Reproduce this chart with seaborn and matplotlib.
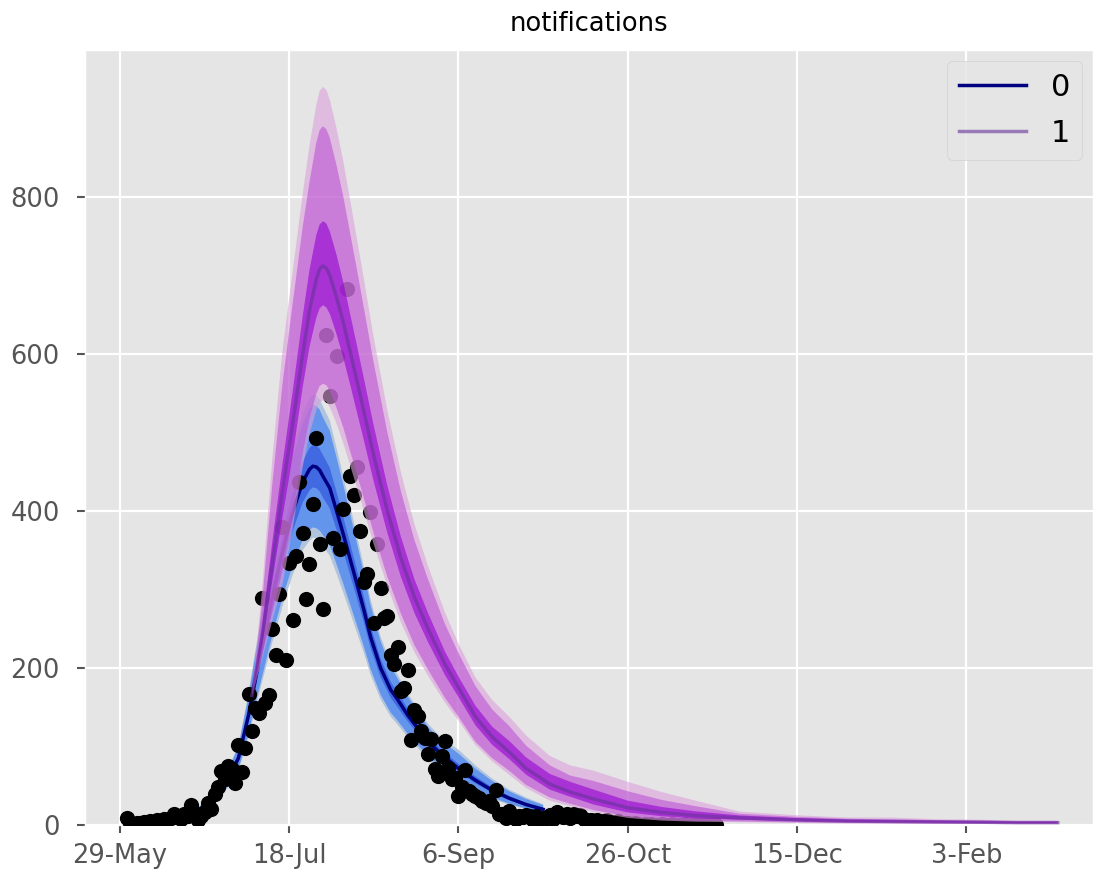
import matplotlib
matplotlib.use("Agg")
import matplotlib.pyplot as plt
import numpy as np
import pandas as pd
import seaborn as sns

# ---------------- data (days since 31-Dec-2019) ----------------
obs_days = list(range(152, 327))
obs_values = [
    9, 2, 1, 3, 2, 4, 3, 5, 4, 7,            # d 2-11
    5, 8, 6, 9, 14, 10, 8, 14, 12, 25,       # d 12-21
    15, 7, 12, 16, 28, 20, 39, 48, 69, 58,   # d 22-31
    75, 71, 54, 102, 67, 98, 167, 120, 149, 143,  # d 32-41
    289, 155, 166, 249, 217, 294, 380, 210, 334, 261,  # d 42-51
    343, 437, 372, 288, 332, 409, 493, 358, 275, 624,  # d 52-61
    546, 365, 597, 351, 402, 682, 445, 420, 456, 374,  # d 62-71
    309, 320, 398, 257, 358, 302, 264, 266, 217, 205,  # d 72-81
    227, 171, 174, 197, 108, 146, 139, 120, 111, 90,   # d 82-91
    109, 71, 62, 88, 107, 72, 58, 60, 37, 48,          # d 92-101
    70, 43, 40, 37, 34, 31, 28, 30, 24, 45,            # d 102-111
    14, 14, 9, 18, 12, 8, 11, 10, 13, 11,              # d 112-121
    7, 12, 9, 6, 10, 13, 8, 16, 12, 10,                # d 122-131
    14, 9, 14, 11, 13, 8, 6, 7, 5, 7,                  # d 132-141
    4, 5, 6, 4, 3, 5, 3, 2, 3, 1,                      # d 142-151
    2, 1, 0, 1, 0, 1, 0, 0, 1, 0,                      # d 152-161
    0, 1, 0, 0, 0, 1, 0, 0, 0, 0,                      # d 162-171
    0, 0, 0, 0, 0,                                     # d 172-176
]

# scenario 0 (baseline)
s0_days = [152, 156, 160, 164, 168, 172, 176, 179, 182, 185, 188, 190, 192,
           195, 198, 201, 204, 206, 207, 208, 209, 210, 212, 214, 216, 219,
           222, 224, 227, 230, 232, 235, 238, 241, 245, 250, 255, 260, 265,
           270, 275]
s0_median = [2, 3, 5, 7, 11, 16, 27, 40, 60, 85, 140, 185, 228, 290, 348, 398,
             437, 453, 457, 456, 452, 444, 429, 400, 370, 323, 275, 240, 200,
             172, 160, 140, 123, 106, 90, 72, 57, 44, 34, 26, 20]
s0_q01 = [1.6, 2.4, 4, 5.6, 8.8, 12.8, 21.6, 32, 48, 68, 112, 148, 182, 232,
          278, 318, 350, 362, 366, 365, 362, 355, 343, 320, 296, 258, 220, 192,
          160, 138, 128, 112, 98, 84, 70, 55, 43, 33, 26, 20, 15]
s0_q025 = [1.7, 2.5, 4.2, 5.8, 9.1, 13.3, 22.4, 33, 50, 71, 116, 154, 189, 241,
           289, 330, 363, 376, 379, 378, 375, 369, 356, 332, 307, 268, 228,
           199, 166, 143, 133, 116, 102, 88, 73, 58, 46, 35, 27, 21, 16]
s0_q25 = [1.9, 2.8, 4.7, 6.6, 10.3, 15, 25.4, 37.6, 56, 80, 132, 174, 214,
          273, 327, 374, 411, 426, 430, 429, 425, 417, 403, 376, 348, 304, 259,
          226, 188, 162, 150, 132, 116, 99, 84, 67, 53, 41, 32, 24, 18.6]
s0_q75 = [2.1, 3.2, 5.3, 7.4, 11.7, 17, 28.6, 42.4, 64, 90, 148, 196, 242, 307,
          369, 422, 463, 480, 484, 483, 479, 471, 455, 424, 392, 342, 292, 254,
          212, 182, 170, 148, 130, 113, 96, 78, 62, 48, 37, 28, 21.6]
s0_q975 = [2.3, 3.5, 5.9, 8.2, 12.9, 18.7, 31.6, 46.8, 70, 99, 164, 216, 267,
           339, 407, 466, 511, 530, 535, 534, 529, 519, 502, 468, 433, 378,
           322, 281, 234, 201, 187, 164, 144, 125, 107, 91, 72, 56, 43, 33,
           25.4]
s0_q99 = [2.4, 3.6, 6, 8.4, 13.2, 19.2, 32.4, 48, 72, 102, 168, 222, 274, 348,
          418, 478, 524, 544, 548, 547, 542, 533, 515, 480, 444, 388, 330, 288,
          240, 206, 192, 168, 148, 129, 111, 96, 76, 59, 45, 35, 26.6]

# scenario 1
s1_days = [189, 192, 195, 198, 201, 204, 206, 208, 209, 210, 211, 212, 214,
           216, 218, 220, 222, 225, 229, 233, 237, 241, 246, 250, 255, 260,
           265, 270, 277, 283, 290, 300, 310, 320, 333, 350, 365, 378, 390,
           405, 415, 427]
s1_median = [165, 240, 333, 425, 510, 600, 655, 695, 708, 712, 709, 700, 672,
             640, 603, 566, 528, 470, 400, 340, 290, 250, 205, 175, 138, 112,
             93, 72, 52, 42, 33, 22, 16, 12, 9, 6.5, 5, 4.5, 4, 3.5, 3, 3]
s1_q01 = [165, 211, 260, 306, 377, 456, 498, 528, 538, 541, 539, 532, 511, 486,
          458, 430, 401, 357, 304, 258, 220, 190, 156, 133, 102, 81, 64, 47,
          31, 24, 16.5, 9, 5.6, 4.2, 3.6, 2.6, 2, 1.8, 1.6, 1.4, 1.2, 1.2]
s1_q025 = [165, 216, 270, 323, 393, 474, 517, 549, 559, 562, 560, 553, 531,
           506, 476, 447, 417, 371, 316, 269, 229, 198, 162, 138, 106, 85, 69,
           51, 35, 27, 19, 11, 7.2, 5.4, 4.5, 3.3, 2.5, 2.3, 2, 1.8, 1.5, 1.5]
s1_q25 = [165, 230, 310, 391, 469, 558, 609, 646, 658, 662, 659, 651, 625, 595,
          561, 526, 491, 437, 372, 316, 270, 233, 191, 163, 127, 102, 84, 64,
          45, 36, 26, 16, 11.2, 8.4, 6.8, 4.9, 3.8, 3.4, 3, 2.6, 2.3, 2.3]
s1_q75 = [165, 252, 360, 459, 551, 648, 707, 751, 765, 769, 766, 756, 726, 691,
          651, 611, 570, 508, 432, 367, 313, 270, 221, 189, 152, 125, 107, 86,
          65, 55, 45, 31, 23, 17.4, 12.2, 8.8, 6.8, 6.1, 5.4, 4.7, 4.1, 4.1]
s1_q975 = [165, 283, 433, 561, 663, 762, 819, 869, 885, 890, 886, 875, 840,
           800, 754, 708, 660, 588, 500, 425, 363, 313, 256, 219, 177, 147, 126,
           101, 76, 63, 56, 43, 32, 24, 14.4, 10.4, 8, 7.2, 6.4, 5.6, 4.8, 4.8]
s1_q99 = [165, 300, 466, 604, 704, 804, 865, 917, 935, 940, 936, 924, 887, 845,
          796, 747, 697, 620, 528, 449, 383, 330, 271, 231, 188, 159, 138, 114,
          88, 76, 69, 55, 42, 31, 17.1, 12.4, 9.5, 9.5, 7.6, 6.7, 5.7, 5.7]

tick_days = [150, 200, 250, 300, 350, 400]
tick_labels = ["29-May", "18-Jul", "6-Sep", "26-Oct", "15-Dec", "3-Feb"]
y_ticks = [0, 200, 400, 600, 800]

# ---------------- figure ----------------
plt.style.use("ggplot")
W, H = 1093, 874
fig = plt.figure(figsize=(W / 100, H / 100), dpi=100)
ax = fig.add_axes([85 / W, (H - 825) / H, (W - 85) / W, (825 - 50) / H])

obs = pd.DataFrame({"day": obs_days, "value": obs_values})
s0 = pd.DataFrame({"day": s0_days, "median": s0_median})
s1 = pd.DataFrame({"day": s1_days, "median": s1_median})

# scenario 0 bands
blues = ["lightsteelblue", "cornflowerblue", "royalblue"]
for (lo, hi), c in zip([(s0_q01, s0_q99), (s0_q025, s0_q975), (s0_q25, s0_q75)], blues):
    ax.fill_between(s0_days, lo, hi, facecolor=c, edgecolor="none", zorder=2)
sns.lineplot(data=s0, x="day", y="median", color="navy", lw=2.5,
             estimator=None, ax=ax, label="0", zorder=3)

# observations
sns.scatterplot(data=obs, x="day", y="value", color="black", s=120,
                linewidth=0, ax=ax, zorder=4, legend=False)

# scenario 1 bands (translucent, drawn on top)
purples = ["plum", "mediumorchid", "darkviolet"]
for (lo, hi), c in zip([(s1_q01, s1_q99), (s1_q025, s1_q975), (s1_q25, s1_q75)], purples):
    ax.fill_between(s1_days, lo, hi, facecolor=c, edgecolor="none", alpha=0.6, zorder=5)
sns.lineplot(data=s1, x="day", y="median", color="rebeccapurple", alpha=0.6,
             lw=2.5, estimator=None, ax=ax, label="1", zorder=6)

ax.set_xlim(139.7, 437.4)
ax.set_ylim(0, 987)
ax.set_xticks(tick_days)
ax.set_xticklabels(tick_labels)
ax.set_yticks(y_ticks)
ax.tick_params(axis="both", labelsize=18.5, colors="#555555", length=6, width=1.5)
ax.tick_params(axis="x", pad=7)
ax.tick_params(axis="y", pad=12)
ax.grid(True, color="white", linewidth=1.6)
ax.set_axisbelow(True)
ax.set_xlabel("")
ax.set_ylabel("")
ax.set_title("notifications", fontsize=18.5, pad=14, color="black")

leg = ax.legend(loc="upper right", fontsize=22, handlelength=2.2,
                borderaxespad=0.35, labelspacing=0.55)
for t in leg.get_texts():
    t.set_color("black")

fig.savefig("out.png", dpi=100)
